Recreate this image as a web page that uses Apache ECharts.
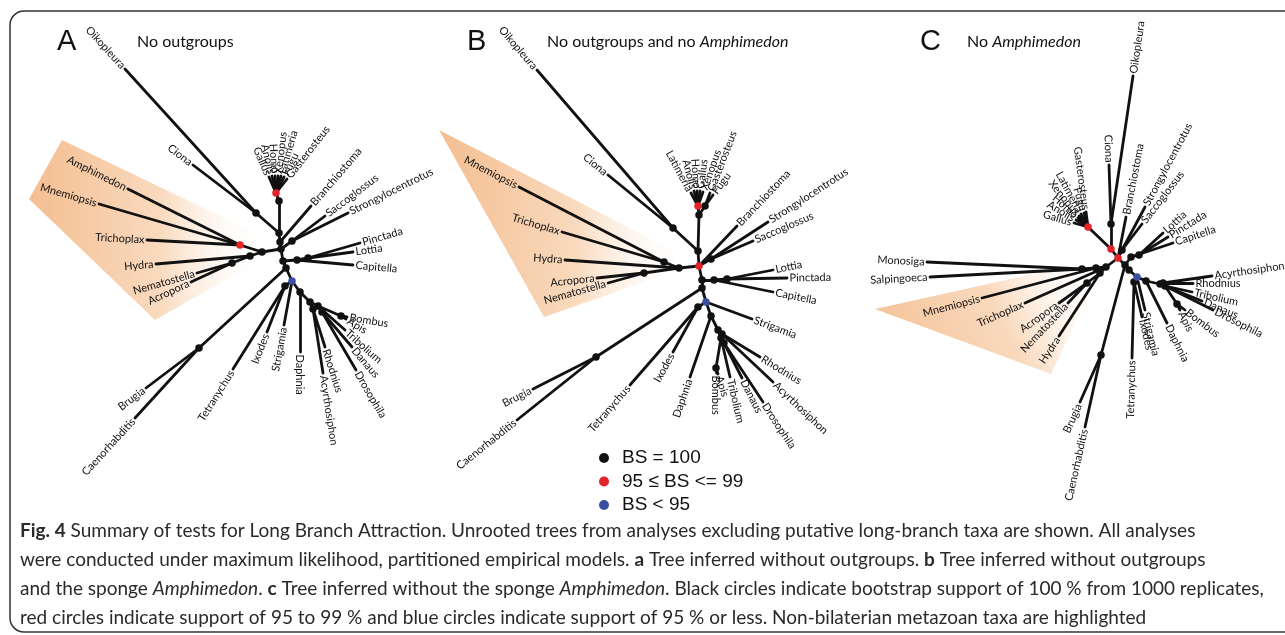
<!DOCTYPE html>
<html><head><meta charset="utf-8">
<script src="https://cdn.jsdelivr.net/npm/echarts@6/dist/echarts.min.js"></script>
<style>html,body{margin:0;padding:0;background:#fff}#c{width:1285px;height:635px}</style>
</head><body><div id="c"></div>
<script>
// Each tree row: [node id, parent id, x, y, support]; support 1 = BS 100, 2 = 95..99, 3 = <95, 0 = no mark.
// Nodes without children are the taxa (leaf labels).
const treeA = [
 ['a0',null,281,249,1],['a1','a0',280,242,1],['a2','a1',279,233,1],['a3','a2',256,213,1],
 ['Oikopleura','a3',125,69,0],['Ciona','a3',193,165,0],
 ['a4','a2',279,201,1],['a5','a4',276,193,2],
 ['Gallus','a5',269,177,0],['Anolis','a5',272,176,0],['Homo','a5',275,176,0],['Xenopus','a5',278,176,0],
 ['Latimeria','a5',281,176,0],['Fugu','a5',284,177,0],['Gasterosteus','a5',287,179,0],
 ['Branchiostoma','a1',311,206,0],
 ['a6','a0',292,241,1],['Saccoglossus','a6',325,216,0],['Strongylocentrotus','a6',348,213,0],
 ['a7','a0',262,252,1],['a8','a7',240,245,2],
 ['Amphimedon','a8',128,189,0],['Mnemiopsis','a8',99,204,0],['Trichoplax','a8',147,240,0],
 ['a9','a7',250,256,1],['Hydra','a9',156,264,0],['a10','a9',232,263,1],
 ['Nematostella','a10',197,273,0],['Acropora','a10',191,282,0],
 ['a11','a0',283,261,1],['a12','a11',297,260,1],['Capitella','a12',353,265,0],
 ['a13','a12',308,258,1],['Pinctada','a13',360,243,0],['Lottia','a13',353,252,0],
 ['a14','a11',286,268,1],['a15','a14',199,348,1],['Brugia','a15',146,388,0],['Caenorhabditis','a15',135,418,0],
 ['a16','a14',292,281,3],['a17','a16',285,286,1],['Tetranychus','a17',233,369,0],['Ixodes','a17',267,332,0],
 ['Strigamia','a16',284,325,0],['a18','a16',300,292,1],['Daphnia','a18',300,352,0],
 ['a19','a18',310,302,1],['a20','a19',313,309,1],['Rhodnius','a20',325,347,0],['Acyrthosiphon','a20',323,373,0],
 ['a21','a19',318,306,1],['a22','a21',341,316,1],['Bombus','a22',347,317,0],['Apis','a22',346,319,0],
 ['Tribolium','a21',345,330,0],['a23','a21',322,312,1],['Danaus','a23',352,347,0],['Drosophila','a23',356,370,0]
];
const treeB = [
 ['b0',null,699,266,2],['b1','b0',698,251,1],['b2','b1',673,228,1],
 ['Oikopleura','b2',537,70,0],['Ciona','b2',608,175,0],
 ['b3','b1',699,215,1],['b4','b3',698,206,2],
 ['Latimeria','b4',691,193,0],['Anolis','b4',694,191,0],['Homo','b4',697,191,0],['Gallus','b4',700,191,0],['Xenopus','b4',703,192,0],
 ['b5','b3',705,206,1],['Gasterosteus','b5',710,193,0],['Fugu','b5',713,195,0],
 ['Branchiostoma','b0',737,226,0],
 ['b6','b0',711,259,1],['Strongylocentrotus','b6',768,222,0],['Saccoglossus','b6',753,241,0],
 ['b7','b0',679,268,1],['b8','b7',664,262,1],['Mnemiopsis','b8',519,187,0],['Trichoplax','b8',562,232,0],
 ['Hydra','b7',565,260,0],['b9','b7',644,273,1],['Acropora','b9',597,278,0],['Nematostella','b9',608,283,0],
 ['b10','b0',702,280,1],['b11','b10',714,280,1],['Capitella','b11',773,292,0],
 ['b12','b11',727,279,1],['Lottia','b12',773,270,0],['Pinctada','b12',787,278,0],
 ['b13','b10',702,288,1],['b14','b13',596,357,1],['Brugia','b14',533,389,0],['Caenorhabditis','b14',517,420,0],
 ['b15','b13',706,302,3],['b16','b15',698,307,1],['Tetranychus','b16',630,385,0],['Ixodes','b16',673,352,0],
 ['Strigamia','b15',752,319,0],['b17','b15',711,316,1],['Daphnia','b17',690,377,0],
 ['b18','b17',718,330,1],['b19','b18',722,334,1],['Rhodnius','b19',760,357,0],['Acyrthosiphon','b19',773,382,0],
 ['b20','b18',721,338,1],['b21','b20',716,368,1],['Bombus','b21',716,373,0],['Apis','b21',718,374,0],
 ['Tribolium','b20',730,377,0],['b22','b20',724,343,1],['Danaus','b22',742,378,0],['Drosophila','b22',763,402,0]
];
const treeC = [
 ['c0',null,1118,258,2],['c1','c0',1111,249,2],['c2','c1',1111,224,1],
 ['Oikopleura','c2',1133,76,0],['Ciona','c2',1109,165,0],
 ['c3','c1',1088,227,2],
 ['Gallus','c3',1074,223,0],['Anolis','c3',1076,220,0],['Homo','c3',1078,218,0],['Xenopus','c3',1079,216,0],
 ['Latimeria','c3',1081,214,0],['Fugu','c3',1084,213,0],['Gasterosteus','c3',1086,212,0],
 ['Branchiostoma','c0',1126,217,0],
 ['c4','c0',1122,250,1],['Strongylocentrotus','c4',1145,207,0],['Saccoglossus','c4',1142,224,0],
 ['c5','c0',1106,267,1],['c6','c5',1096,268,1],['c7','c6',1082,269,1],
 ['Monosiga','c7',927,262,0],['Salpingoeca','c7',930,277,0],['Mnemiopsis','c6',982,298,0],
 ['Trichoplax','c5',1025,303,0],['c8','c5',1100,273,1],['Hydra','c8',1059,336,0],
 ['c9','c8',1087,283,1],['Acropora','c9',1059,303,0],['Nematostella','c9',1068,303,0],
 ['c10','c0',1125,265,1],['c11','c10',1131,257,1],['Capitella','c11',1173,243,0],
 ['c12','c11',1139,255,1],['Lottia','c12',1163,233,0],['Pinctada','c12',1168,237,0],
 ['c13','c10',1101,355,1],['Brugia','c13',1080,402,0],['Caenorhabditis','c13',1085,427,0],
 ['c14','c10',1129,270,1],['c15','c14',1137,277,3],['c16','c15',1134,282,1],
 ['Tetranychus','c16',1132,358,0],['Ixodes','c16',1142,317,0],['Strigamia','c15',1145,310,0],
 ['c17','c15',1146,281,1],['Daphnia','c17',1167,323,0],['c18','c17',1160,284,1],
 ['c19','c18',1163,283,1],['Acyrthosiphon','c19',1212,276,0],['Rhodnius','c19',1193,283,0],
 ['c20','c18',1165,286,1],['Tribolium','c20',1192,292,0],['Danaus','c20',1202,301,0],['Drosophila','c20',1213,310,0],
 ['c21','c20',1177,304,1],['Bombus','c21',1185,310,0],['Apis','c21',1180,310,0]
];
// highlighted non-bilaterian wedges (polygon vertices in the same units)
const shadeA = [[62,140],[29,199],[155,320],[268,256],[262,236]];
const shadeB = [[439,130],[544,317],[690,266],[684,256]];
const shadeC = [[875,309],[1051,374],[1102,266],[1092,261]];

const panelLetters = ['A','B','C'];
const panelTitles = ['No outgroups','No outgroups and no {i|Amphimedon}','No {i|Amphimedon}'];
const supportNames = ['BS = 100','95 \u2264 BS <= 99','BS < 95'];
const captionLines = [
 '{b|Fig. 4} Summary of tests for Long Branch Attraction. Unrooted trees from analyses excluding putative long-branch taxa are shown. All analyses',
 'were conducted under maximum likelihood, partitioned empirical models. {b|a} Tree inferred without outgroups. {b|b} Tree inferred without outgroups',
 'and the sponge {i|Amphimedon}. {b|c} Tree inferred without the sponge {i|Amphimedon}. Black circles indicate bootstrap support of 100 % from 1000 replicates,',
 'red circles indicate support of 95 to 99 % and blue circles indicate support of 95 % or less. Non-bilaterian metazoan taxa are highlighted'
];

const supportColors = ['#111111','#e2232a','#3a4fa2'];
const trees = [treeA, treeB, treeC];
const edges = [], leaves = [], dots = [[],[],[]];
trees.forEach(tree => {
  const byId = {}, hasChild = {};
  tree.forEach(r => { byId[r[0]] = r; if (r[1]) hasChild[r[1]] = true; });
  tree.forEach(r => {
    if (r[1]) {
      const p = byId[r[1]];
      edges.push({coords: [[p[2], p[3]], [r[2], r[3]]]});
      if (!hasChild[r[0]]) leaves.push({name: r[0], value: [r[2], r[3], r[2] - p[2], r[3] - p[3]]});
    }
    if (r[4] > 0) dots[r[4] - 1].push([r[2], r[3]]);
  });
});
const shades = [shadeA, shadeB, shadeC];
const shadeDirs = [[0,0.5,1,0.5],[0,0.5,1,0.5],[0,1,1,0]];

const chart = echarts.init(document.getElementById('c'), null, {renderer: 'canvas'});
const series = [];
series.push({
  type: 'custom', coordinateSystem: 'cartesian2d', silent: true, z: 1,
  data: shades.map(s => s[0]),
  renderItem: (params, api) => {
    const pts = shades[params.dataIndex].map(p => api.coord(p));
    const d = shadeDirs[params.dataIndex];
    return {type: 'polygon', shape: {points: pts}, style: {
      fill: new echarts.graphic.LinearGradient(d[0], d[1], d[2], d[3], [
        {offset: 0, color: 'rgba(244,190,145,1)'},
        {offset: 0.55, color: 'rgba(249,218,190,1)'},
        {offset: 1, color: 'rgba(255,255,255,0)'}])}};
  }
});
series.push({
  type: 'lines', coordinateSystem: 'cartesian2d', silent: true, z: 2,
  data: edges,
  lineStyle: {color: '#111', width: 2.8, opacity: 1, cap: 'round'}
});
supportNames.forEach((n, i) => series.push({
  type: 'scatter', name: n, data: dots[i], symbol: 'circle', symbolSize: 7.5, z: 3, silent: true,
  itemStyle: {color: supportColors[i], opacity: 1}
}));
series.push({
  type: 'custom', coordinateSystem: 'cartesian2d', silent: true, z: 4,
  data: leaves.map(l => l.value),
  renderItem: (params, api) => {
    const lf = leaves[params.dataIndex];
    const p = api.coord([lf.value[0], lf.value[1]]);
    const dx = lf.value[2], dy = lf.value[3];
    const L = Math.hypot(dx, dy) || 1;
    const ux = dx / L, uy = dy / L, pad = 2.5;
    const flip = dx < 0;
    const ang = flip ? Math.atan2(-dy, -dx) : Math.atan2(dy, dx);
    return {type: 'text', x: p[0] + ux * pad, y: p[1] + uy * pad, rotation: -ang,
      style: {text: lf.name, align: flip ? 'right' : 'left', verticalAlign: 'middle',
        fontSize: 11, fontFamily: 'Lato', fill: '#111'}};
  }
});

const letterX = [57, 467, 920], titleX = [137, 547, 967];
const graphics = [{type: 'rect', shape: {x: 10, y: 11, width: 1320, height: 621, r: 14},
  style: {fill: null, stroke: '#333', lineWidth: 1.5}, silent: true}];
panelLetters.forEach((t, i) => {
  graphics.push({type: 'text', x: letterX[i], y: 42, style: {text: t, fontSize: 29, fontFamily: 'Liberation Sans', fill: '#111', verticalAlign: 'middle'}});
  graphics.push({type: 'text', x: titleX[i], y: 42, style: {text: panelTitles[i], fontSize: 16, fontFamily: 'Lato', fill: '#111', verticalAlign: 'middle',
    rich: {i: {fontStyle: 'italic', fontSize: 16, fontFamily: 'Lato', fill: '#111'}}}});
});
captionLines.forEach((t, i) => graphics.push({type: 'text', x: 20, y: 531 + i * 29, style: {
  text: t, fontSize: 19, fontFamily: 'Lato', fill: '#2a2a2a', verticalAlign: 'middle',
  rich: {b: {fontWeight: 'bold', fontSize: 19, fontFamily: 'Lato', fill: '#2a2a2a'},
         i: {fontStyle: 'italic', fontSize: 19, fontFamily: 'Lato', fill: '#2a2a2a'}}}}));

chart.setOption({
  animation: false,
  grid: {left: 0, right: 0, top: 0, bottom: 0},
  xAxis: {type: 'value', min: 0, max: 1285, show: false},
  yAxis: {type: 'value', min: 0, max: 635, inverse: true, show: false},
  legend: {orient: 'vertical', left: 594, top: 443, itemWidth: 26, itemHeight: 10, itemGap: 3.5,
    icon: 'circle', selectedMode: false, data: supportNames,
    textStyle: {fontSize: 19, fontFamily: 'Liberation Sans', color: '#111', lineHeight: 20}},
  graphic: graphics,
  series: series
});
</script></body></html>
